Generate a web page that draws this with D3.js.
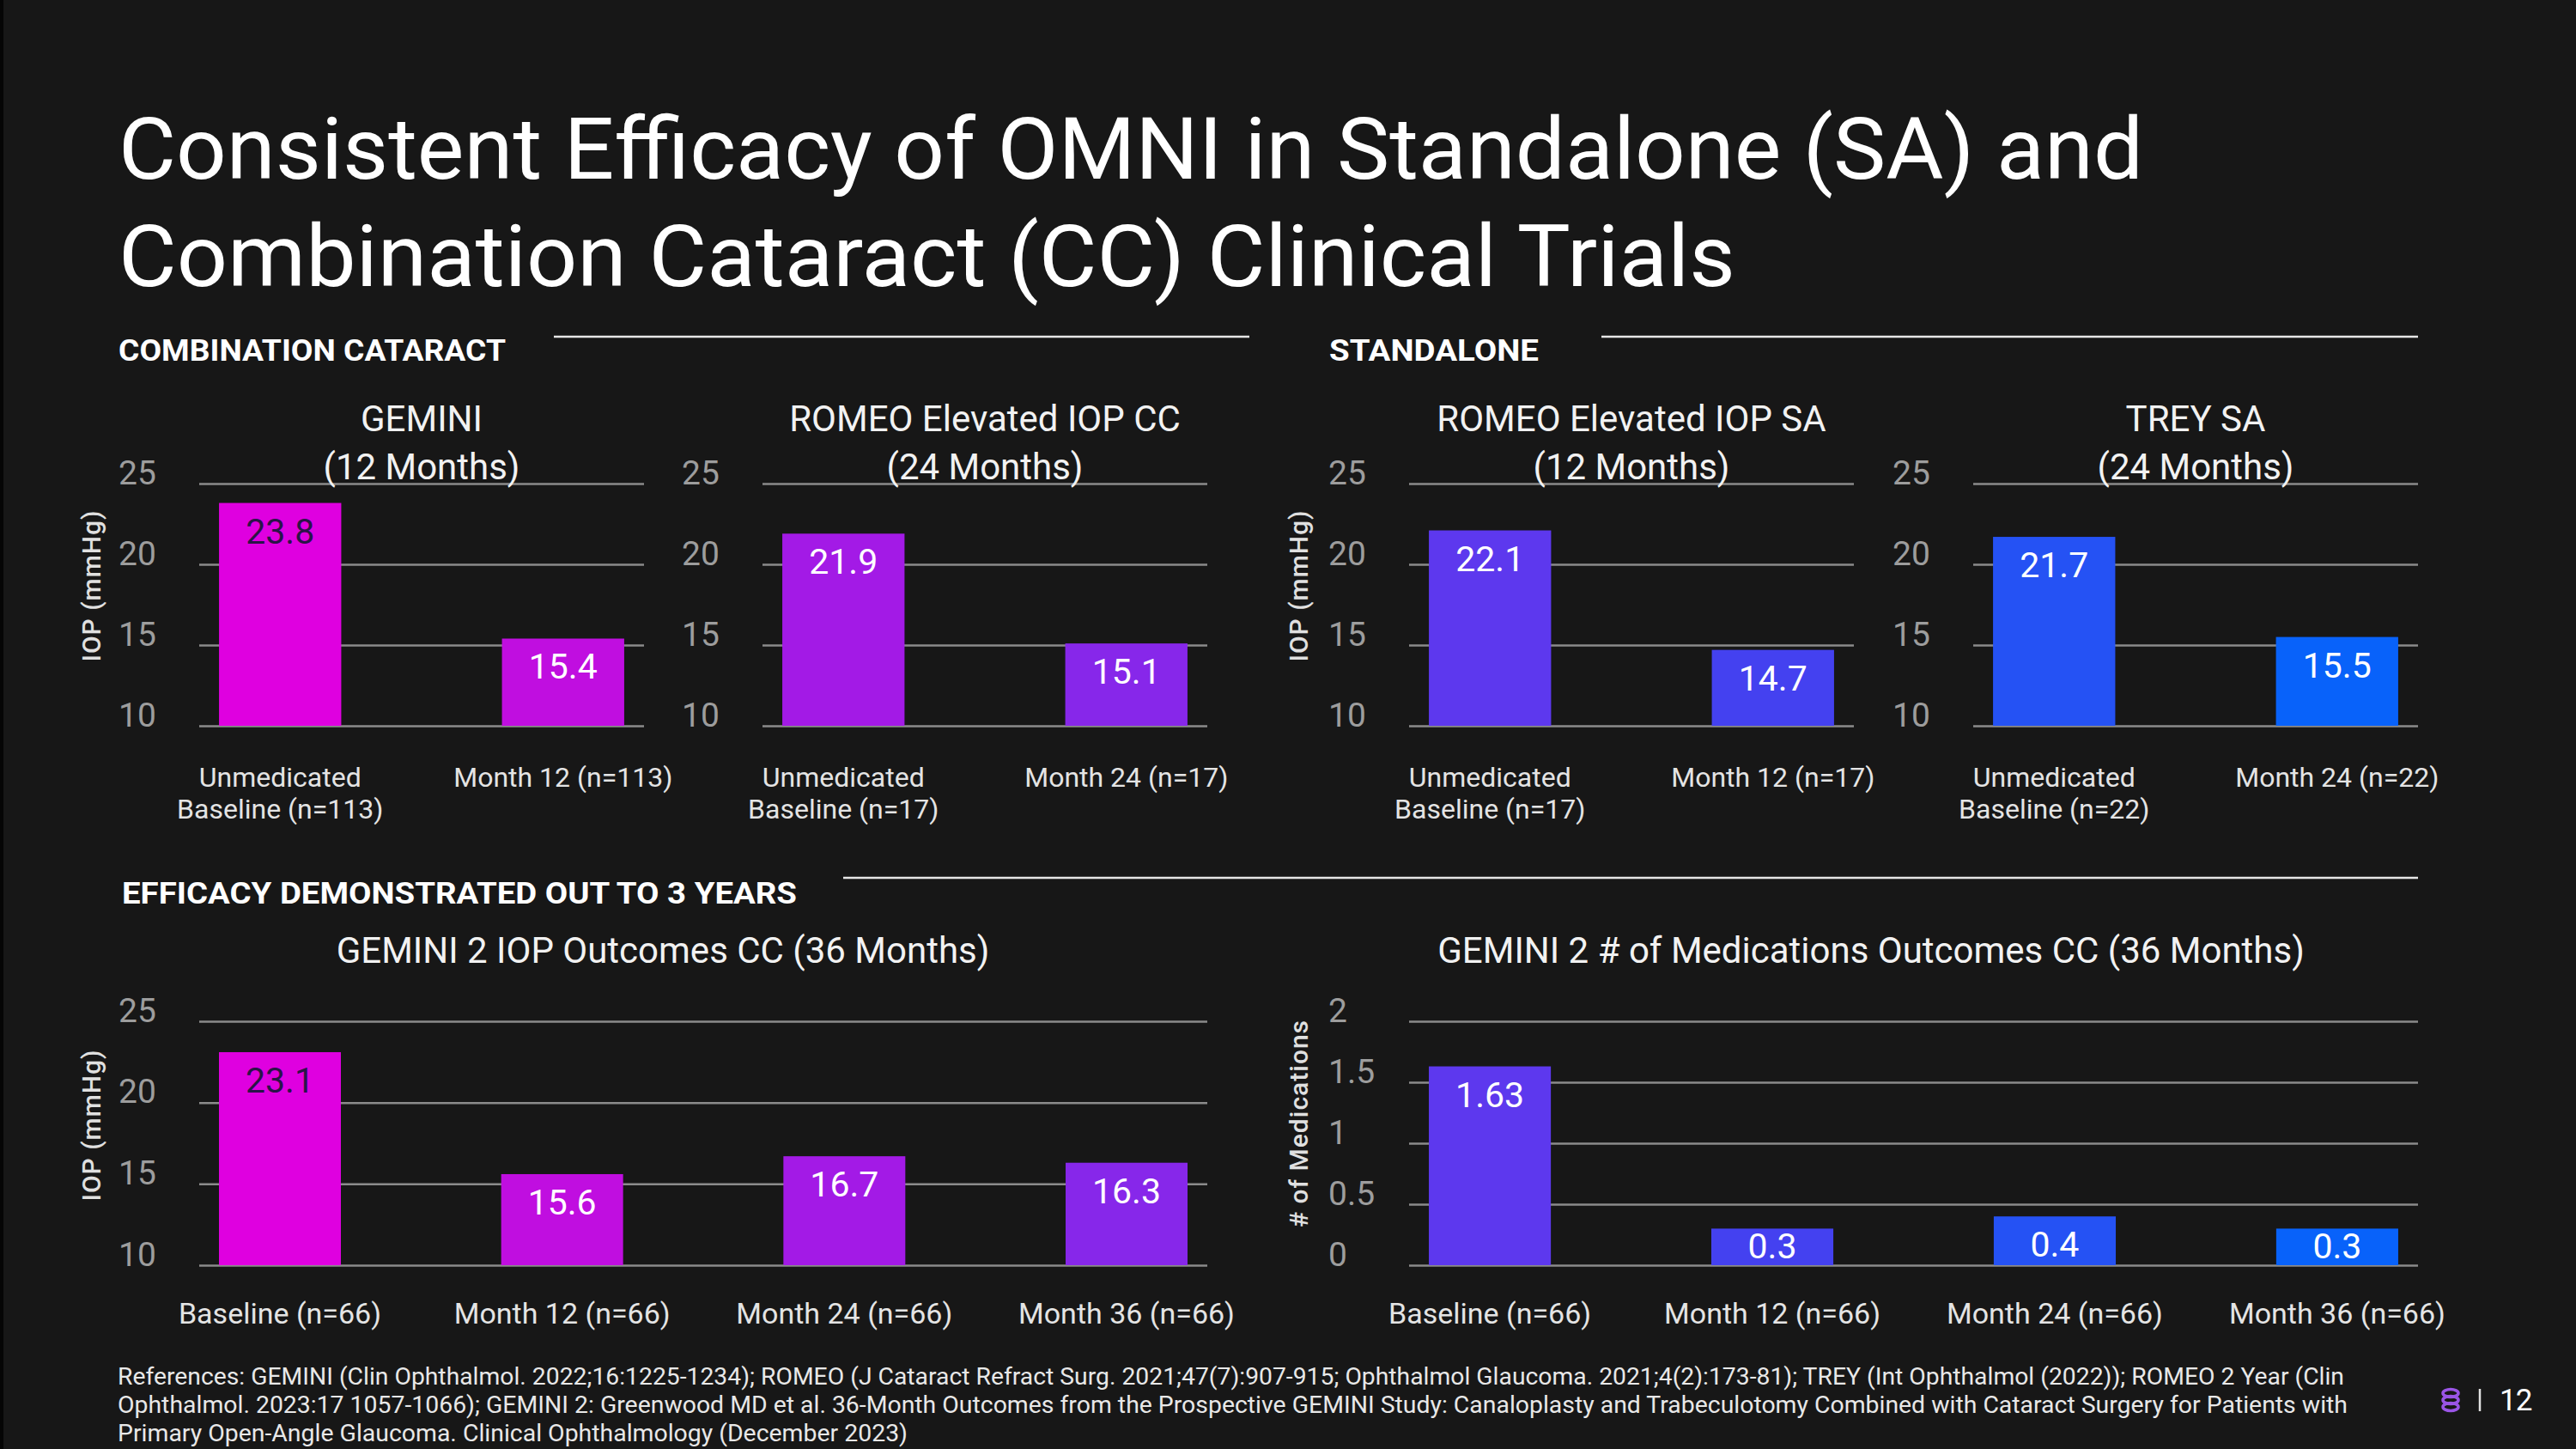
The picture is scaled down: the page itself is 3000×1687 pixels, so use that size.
<!DOCTYPE html>
<html><head><meta charset="utf-8">
<script src="https://cdn.jsdelivr.net/npm/d3@7"></script>
<style>
html,body{margin:0;padding:0;background:#171717;}
svg{display:block;}
text{font-family:Roboto,"Noto Sans",sans-serif;}
</style></head><body>
<svg id="c" width="3000" height="1687"></svg>
<script>
// ---------- DATA ----------
const titleLines = ["Consistent Efficacy of OMNI in Standalone (SA) and", "Combination Cataract (CC) Clinical Trials"];
const sectionHeads = ["COMBINATION CATARACT", "STANDALONE", "EFFICACY DEMONSTRATED OUT TO 3 YEARS"];

const geminiTitle = ["GEMINI", "(12 Months)"];
const geminiCats = ["Unmedicated\nBaseline (n=113)", "Month 12 (n=113)"];
const geminiVals = [23.8, 15.4];

const romeoCCTitle = ["ROMEO Elevated IOP CC", "(24 Months)"];
const romeoCCCats = ["Unmedicated\nBaseline (n=17)", "Month 24 (n=17)"];
const romeoCCVals = [21.9, 15.1];

const romeoSATitle = ["ROMEO Elevated IOP SA", "(12 Months)"];
const romeoSACats = ["Unmedicated\nBaseline (n=17)", "Month 12 (n=17)"];
const romeoSAVals = [22.1, 14.7];

const treyTitle = ["TREY SA", "(24 Months)"];
const treyCats = ["Unmedicated\nBaseline (n=22)", "Month 24 (n=22)"];
const treyVals = [21.7, 15.5];

const gemini2IopTitle = ["GEMINI 2 IOP Outcomes CC (36 Months)"];
const gemini2MedTitle = ["GEMINI 2 # of Medications Outcomes CC (36 Months)"];
const gemini2Cats = ["Baseline (n=66)", "Month 12 (n=66)", "Month 24 (n=66)", "Month 36 (n=66)"];
const gemini2IopVals = [23.1, 15.6, 16.7, 16.3];
const gemini2MedVals = [1.63, 0.3, 0.4, 0.3];

const iopTicks = [10, 15, 20, 25];
const iopTickLabels = ["10", "15", "20", "25"];
const medTicks = [0, 0.5, 1, 1.5, 2];
const medTickLabels = ["0", "0.5", "1", "1.5", "2"];
const iopAxisTitle = "IOP (mmHg)";
const medAxisTitle = "# of Medications";

const footerLines = [
  "References: GEMINI (Clin Ophthalmol. 2022;16:1225-1234); ROMEO (J Cataract Refract Surg. 2021;47(7):907-915; Ophthalmol Glaucoma. 2021;4(2):173-81); TREY (Int Ophthalmol (2022)); ROMEO 2 Year (Clin",
  "Ophthalmol. 2023:17 1057-1066); GEMINI 2: Greenwood MD et al. 36-Month Outcomes from the Prospective GEMINI Study: Canaloplasty and Trabeculotomy Combined with Cataract Surgery for Patients with",
  "Primary Open-Angle Glaucoma. Clinical Ophthalmology (December 2023)"
];
const pageNumber = "12";

// ---------- STYLES ----------
const magenta = "#df00e0", c2 = "#c00ee0", c3 = "#a31ae6", c4 = "#8727ea";
const c5 = "#5d38ee", c6 = "#4441f0", c7 = "#2552f4", c8 = "#0862fa";

const W = 3000, H = 1687;
const svg = d3.select("#c");
svg.append("rect").attr("width", W).attr("height", H).attr("fill", "#171717");
svg.append("rect").attr("width", 4).attr("height", H).attr("fill", "#050505");

// Main title
svg.selectAll("text.title").data(titleLines).join("text")
  .attr("class", "title")
  .attr("x", 138).attr("y", (d, i) => [208, 333][i])
  .attr("font-size", 100).attr("fill", "#ffffff")
  .attr("textLength", (d, i) => [2358, 1883][i]).attr("lengthAdjust", "spacingAndGlyphs")
  .text(d => d);

// Section headings + rules
const headPos = [
  {x: 138, y: 420, len: 451, lx0: 645, lx1: 1455, ly: 392},
  {x: 1548, y: 420, len: 244, lx0: 1865, lx1: 2816, ly: 392},
  {x: 142, y: 1052, len: 786, lx0: 982, lx1: 2816, ly: 1022}
];
sectionHeads.forEach((t, i) => {
  const p = headPos[i];
  svg.append("text").attr("x", p.x).attr("y", p.y)
    .attr("font-size", 35).attr("font-weight", 700).attr("fill", "#ffffff")
    .attr("textLength", p.len).attr("lengthAdjust", "spacingAndGlyphs").text(t);
  svg.append("line").attr("x1", p.lx0).attr("x2", p.lx1).attr("y1", p.ly).attr("y2", p.ly)
    .attr("stroke", "#e6e6e6").attr("stroke-width", 2.5);
});

function drawChart(cfg) {
  const g = svg.append("g");
  const x = d3.scaleBand().domain(cfg.cats).range([cfg.x0, cfg.x1])
    .paddingInner(0.568).paddingOuter(0.07);
  const y = d3.scaleLinear().domain(cfg.domain).range([cfg.yBot, cfg.yTop]);

  // gridlines
  const grid = g.append("g").attr("transform", `translate(${cfg.x0},0)`)
    .call(d3.axisLeft(y).tickValues(cfg.ticks).tickSize(-(cfg.x1 - cfg.x0)).tickFormat(""));
  grid.select(".domain").remove();
  grid.selectAll("line").attr("stroke", "#8b8b8b").attr("stroke-width", 2.5);

  // tick labels
  const ax = g.append("g").attr("transform", `translate(${cfg.x0},0)`)
    .call(d3.axisLeft(y).tickValues(cfg.ticks).tickSize(0)
      .tickFormat((d, i) => cfg.tickLabels[i]));
  ax.select(".domain").remove();
  ax.selectAll("text").attr("x", -94).attr("dy", 0).attr("text-anchor", "start")
    .attr("font-size", 39).attr("font-family", "Roboto").attr("fill", "#9d9d9d");

  // bars
  g.selectAll("rect.bar").data(cfg.vals).join("rect").attr("class", "bar")
    .attr("x", (d, i) => x(cfg.cats[i])).attr("width", x.bandwidth())
    .attr("y", d => y(d)).attr("height", d => y(cfg.domain[0]) - y(d))
    .attr("fill", (d, i) => cfg.colors[i]);

  // value labels
  g.selectAll("text.val").data(cfg.vals).join("text").attr("class", "val")
    .attr("x", (d, i) => x(cfg.cats[i]) + x.bandwidth() / 2)
    .attr("y", d => Math.min(y(d) + 47, cfg.yBot - 8))
    .attr("text-anchor", "middle").attr("font-size", 41)
    .attr("fill", (d, i) => cfg.colors[i] === magenta ? "#2a1448" : "#ffffff")
    .text(d => String(d));

  // category labels
  cfg.cats.forEach((c, i) => {
    const t = g.append("text").attr("text-anchor", "middle")
      .attr("font-size", cfg.labelSize).attr("fill", "#e4e4e4");
    c.split("\n").forEach((ln, j) => {
      t.append("tspan").attr("x", x(c) + x.bandwidth() / 2)
        .attr("y", cfg.yBot + cfg.labelOff + j * 37).text(ln);
    });
  });

  // chart title
  cfg.title.forEach((ln, j) => {
    g.append("text").attr("x", cfg.titleX).attr("y", cfg.titleY + j * 56)
      .attr("text-anchor", "middle").attr("font-size", 42).attr("fill", "#f2f2f2")
      .text(ln);
  });

  // y-axis title
  if (cfg.yTitle) {
    g.append("text").attr("transform", `translate(${cfg.yTitleX},${cfg.yTitleY}) rotate(-90)`)
      .attr("text-anchor", "middle").attr("dominant-baseline", "central")
      .attr("font-size", 30).attr("font-weight", 500).attr("letter-spacing", 1)
      .attr("fill", "#e0e0e0").text(cfg.yTitle);
  }
}

drawChart({cats: geminiCats, vals: geminiVals, colors: [magenta, c2], x0: 232, x1: 750,
  yTop: 563, yBot: 845, domain: [10, 25], ticks: iopTicks, tickLabels: iopTickLabels,
  labelOff: 71, labelSize: 32, title: geminiTitle, titleX: 491, titleY: 502,
  yTitle: iopAxisTitle, yTitleX: 106, yTitleY: 682});
drawChart({cats: romeoCCCats, vals: romeoCCVals, colors: [c3, c4], x0: 888, x1: 1406,
  yTop: 563, yBot: 845, domain: [10, 25], ticks: iopTicks, tickLabels: iopTickLabels,
  labelOff: 71, labelSize: 32, title: romeoCCTitle, titleX: 1147, titleY: 502});
drawChart({cats: romeoSACats, vals: romeoSAVals, colors: [c5, c6], x0: 1641, x1: 2159,
  yTop: 563, yBot: 845, domain: [10, 25], ticks: iopTicks, tickLabels: iopTickLabels,
  labelOff: 71, labelSize: 32, title: romeoSATitle, titleX: 1900, titleY: 502,
  yTitle: iopAxisTitle, yTitleX: 1512, yTitleY: 682});
drawChart({cats: treyCats, vals: treyVals, colors: [c7, c8], x0: 2298, x1: 2816,
  yTop: 563, yBot: 845, domain: [10, 25], ticks: iopTicks, tickLabels: iopTickLabels,
  labelOff: 71, labelSize: 32, title: treyTitle, titleX: 2557, titleY: 502});
drawChart({cats: gemini2Cats, vals: gemini2IopVals, colors: [magenta, c2, c3, c4], x0: 232, x1: 1406,
  yTop: 1189, yBot: 1473, domain: [10, 25], ticks: iopTicks, tickLabels: iopTickLabels,
  labelOff: 68, labelSize: 34, title: gemini2IopTitle, titleX: 772, titleY: 1121,
  yTitle: iopAxisTitle, yTitleX: 106, yTitleY: 1310});
drawChart({cats: gemini2Cats, vals: gemini2MedVals, colors: [c5, c6, c7, c8], x0: 1641, x1: 2816,
  yTop: 1189, yBot: 1473, domain: [0, 2], ticks: medTicks, tickLabels: medTickLabels,
  labelOff: 68, labelSize: 34, title: gemini2MedTitle, titleX: 2179, titleY: 1121,
  yTitle: medAxisTitle, yTitleX: 1512, yTitleY: 1308});

// footer
const footLen = [2593, 2597, 920];
svg.selectAll("text.foot").data(footerLines).join("text").attr("class", "foot")
  .attr("x", 137).attr("y", (d, i) => 1612 + i * 33)
  .attr("font-size", 27).attr("fill", "#e8e8e8")
  .attr("textLength", (d, i) => footLen[i]).attr("lengthAdjust", "spacingAndGlyphs")
  .text(d => d);

// page marker
const logo = svg.append("g").attr("fill", "none").attr("stroke", "#9a55e6").attr("stroke-width", 3.5);
[1622, 1630, 1638].forEach(cy => logo.append("ellipse").attr("cx", 2854).attr("cy", cy).attr("rx", 9).attr("ry", 4.5));
svg.append("line").attr("x1", 2888).attr("x2", 2888).attr("y1", 1617).attr("y2", 1643)
  .attr("stroke", "#e0e0e0").attr("stroke-width", 2.5);
svg.append("text").attr("x", 2911).attr("y", 1642).attr("font-size", 35).attr("fill", "#ffffff")
  .attr("letter-spacing", -1).text(pageNumber);
</script></body></html>
